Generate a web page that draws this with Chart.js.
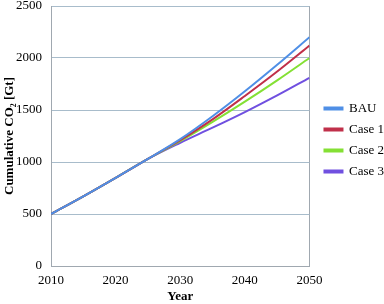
<!DOCTYPE html>
<html>
<head>
<meta charset="utf-8">
<script src="https://cdn.jsdelivr.net/npm/chart.js@4/dist/chart.umd.min.js"></script>
<style>
  html, body { margin: 0; padding: 0; background: #fff; }
  #wrap { width: 384px; height: 304px; position: relative; }
</style>
</head>
<body>
<div id="wrap"><canvas id="co2_chart"></canvas></div>
<script>
const years = [2010, 2015, 2020, 2025, 2030, 2035, 2040, 2045, 2050];
const bau   = [500, 670, 848, 1030, 1220, 1440, 1680, 1935, 2200];
const case1 = [500, 670, 848, 1030, 1210, 1410, 1635, 1870, 2120];
const case2 = [500, 670, 848, 1030, 1200, 1385, 1580, 1785, 2000];
const case3 = [500, 670, 848, 1030, 1185, 1330, 1480, 1640, 1810];
const seriesNames = ['BAU', 'Case 1', 'Case 2', 'Case 3'];
const seriesColors = ['#4f8fe6', '#c0304a', '#84e034', '#7050e0'];

const serif = '"Liberation Serif", "DejaVu Serif", serif';

function toPoints(values) {
    return values.map((v, i) => ({ x: years[i], y: v }));
}

const datasets = [bau, case1, case2, case3].map((vals, i) => ({
    label: seriesNames[i],
    data: toPoints(vals),
    borderColor: seriesColors[i],
    backgroundColor: seriesColors[i],
    borderWidth: 2,
    pointRadius: 0,
    fill: false,
    cubicInterpolationMode: 'monotone',
}));

// nudge the legend right and up, like the original
const legendShift = {
    id: 'legendShift',
    afterLayout(chart) {
        const lg = chart.legend;
        if (!lg) return;
        lg.left += 7; lg.right += 7;
        lg.top -= 15; lg.bottom -= 15;
    },
};

new Chart(document.getElementById('co2_chart'), {
    type: 'line',
    data: { datasets: datasets },
    plugins: [legendShift],
    options: {
        responsive: true,
        maintainAspectRatio: false,
        animation: false,
        layout: { padding: { top: 6, right: -3, left: 0, bottom: 0 } },
        plugins: {
            legend: {
                position: 'right',
                labels: {
                    boxWidth: 18,
                    boxHeight: 2,
                    padding: 8,
                    color: '#000',
                    font: { family: serif, size: 13 },
                },
            },
            tooltip: { enabled: false },
        },
        scales: {
            x: {
                type: 'linear',
                min: 2010,
                max: 2050,
                afterFit: function (scale) { scale.height = 38; },
                border: { color: '#a0a8b0' },
                grid: {
                    drawTicks: false,
                    color: function (ctx) {
                        return ctx.tick && ctx.tick.value === 2050 ? '#a0a8b0' : 'rgba(0,0,0,0)';
                    },
                },
                ticks: {
                    stepSize: 10,
                    padding: 7,
                    color: '#000',
                    font: { family: serif, size: 13 },
                    callback: function (v) { return String(v); },
                },
                title: {
                    display: true,
                    text: 'Year',
                    color: '#000',
                    padding: { top: 1, bottom: 0 },
                    font: { family: serif, size: 13, weight: 'bold' },
                },
            },
            y: {
                min: 0,
                max: 2500,
                afterFit: function (scale) {
                    scale.width = 51;
                    scale.paddingTop = 0;
                },
                border: { color: '#a0a8b0' },
                grid: { drawTicks: false, color: '#a8bccb' },
                ticks: {
                    stepSize: 500,
                    padding: 9,
                    color: '#000',
                    font: { family: serif, size: 13 },
                    callback: function (v) { return String(v); },
                },
                title: {
                    display: true,
                    text: 'Cumulative CO\u2082 [Gt]',
                    color: '#000',
                    padding: { top: 2, bottom: 0 },
                    font: { family: serif, size: 13, weight: 'bold' },
                },
            },
        },
    },
});
</script>
</body>
</html>
